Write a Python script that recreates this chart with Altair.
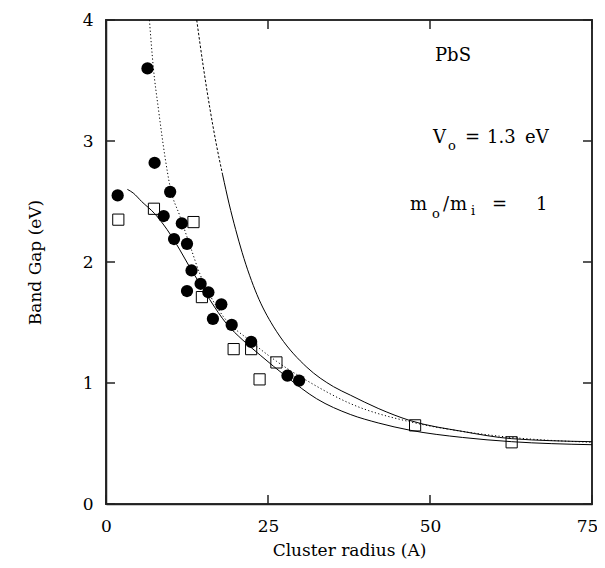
import altair as alt
import pandas as pd

W, H = 486, 484
FONT = "DejaVu Serif"

# measured data: filled circles
circle_x = [1.8, 6.4, 7.5, 8.9, 9.9, 10.5, 11.7, 12.5, 12.5, 13.2, 14.6, 15.8, 16.5, 17.8, 19.4, 22.4, 28.0, 29.8]
circle_y = [2.55, 3.60, 2.82, 2.38, 2.58, 2.19, 2.32, 2.15, 1.76, 1.93, 1.82, 1.75, 1.53, 1.65, 1.48, 1.34, 1.06, 1.02]

# open squares
square_x = [1.9, 7.4, 13.5, 14.8, 19.7, 22.4, 23.7, 26.3, 47.7, 62.6]
square_y = [2.35, 2.44, 2.33, 1.71, 1.28, 1.28, 1.03, 1.17, 0.65, 0.51]

# lower solid model curve
lower_x = [3.3, 4.2, 5.5, 7.5, 9.4, 11.4, 13.0, 14.5, 16.0, 18.6, 21.0, 23.8, 27.9, 32.5, 37.7, 42.0, 46.9, 55.0, 62.6, 75.0]
lower_y = [2.60, 2.57, 2.50, 2.40, 2.27, 2.10, 1.95, 1.82, 1.69, 1.49, 1.36, 1.23, 1.05, 0.87, 0.74, 0.67, 0.61, 0.55, 0.515, 0.49]

# dotted model curve
dotted_x = [6.7, 7.3, 8.1, 9.1, 9.9, 11.4, 13.0, 14.5, 16.0, 18.1, 22.2, 26.3, 31.0, 37.7, 47.7, 55.0, 62.6, 75.0]
dotted_y = [4.0, 3.61, 3.26, 2.87, 2.62, 2.38, 2.13, 1.90, 1.73, 1.55, 1.35, 1.18, 1.02, 0.83, 0.67, 0.60, 0.55, 0.51]

# right model curve (dashed upper part, solid lower part)
right_x = [14.0, 15.0, 16.0, 17.0, 18.0, 19.0, 20.0, 21.0, 23.3, 25.8, 26.9, 31.0, 35.1, 37.7, 42.0, 46.9, 55.0, 62.6, 75.0]
right_y = [4.0, 3.62, 3.28, 2.98, 2.72, 2.48, 2.27, 2.08, 1.73, 1.47, 1.38, 1.13, 0.97, 0.90, 0.79, 0.69, 0.60, 0.54, 0.515]
right_split = 4  # index where the dashed part ends

x_ticks = [0, 25, 50, 75]
y_ticks = [0, 1, 2, 3, 4]

xs = alt.Scale(domain=[0, 75], nice=False, zero=False)
ys = alt.Scale(domain=[0, 4], nice=False, zero=False)

x_axis = alt.Axis(values=x_ticks, ticks=False, domain=True, domainColor="#222", domainWidth=1.5,
                  grid=False,
                  labelPadding=14, labelFontSize=17, labelFont=FONT, labelColor="black",
                  labelOffset=alt.ExprRef("datum.value == 75 ? -5 : 0"),
                  title="Cluster radius (A)", titleFont=FONT, titleFontSize=17,
                  titleFontWeight="normal", titleColor="black", titlePadding=8,
                  labelFlush=False)
y_axis = alt.Axis(values=y_ticks, ticks=False, domain=True, domainColor="#222", domainWidth=1.5,
                  grid=False,
                  labelPadding=13, labelFontSize=17, labelFont=FONT, labelColor="black",
                  title="Band Gap (eV)", titleFont=FONT, titleFontSize=17,
                  titleFontWeight="normal", titleColor="black", titlePadding=38,
                  labelFlush=False)

def line_df(xv, yv):
    return pd.DataFrame({"x": xv, "y": yv})

X = alt.X("x:Q", scale=xs, axis=x_axis)
Y = alt.Y("y:Q", scale=ys, axis=y_axis)

one = pd.DataFrame({"a": [0]})

FW = 0.8  # half thickness of the frame lines
def edge(x1, x2, y1, y2):
    return alt.Chart(one).mark_rect(color="#222", opacity=1).encode(
        x=alt.value(x1), x2=alt.value(x2), y=alt.value(y1), y2=alt.value(y2))

frame = [
    edge(-FW, W + FW, -FW, FW),
    edge(-FW, W + FW, H - FW, H + FW),
    edge(-FW, FW, -FW, H + FW),
    edge(W - FW, W + FW, -FW, H + FW),
]

squares = alt.Chart(line_df(square_x, square_y)).mark_point(
    shape="square", size=125, filled=True, fill="white", stroke="black", strokeWidth=1, opacity=1
).encode(x=X, y=Y)

lower = alt.Chart(line_df(lower_x, lower_y)).mark_line(
    color="black", strokeWidth=1, interpolate="monotone"
).encode(x=X, y=Y, order="x:Q")

dotted = alt.Chart(line_df(dotted_x, dotted_y)).mark_line(
    color="black", strokeWidth=1, strokeDash=[1.2, 2.3], interpolate="monotone"
).encode(x=X, y=Y, order="x:Q")

right_dash = alt.Chart(line_df(right_x[:right_split + 1], right_y[:right_split + 1])).mark_line(
    color="black", strokeWidth=1, strokeDash=[2.5, 1.8], interpolate="monotone"
).encode(x=X, y=Y, order="x:Q")

right_solid = alt.Chart(line_df(right_x[right_split:], right_y[right_split:])).mark_line(
    color="black", strokeWidth=1, interpolate="monotone"
).encode(x=X, y=Y, order="x:Q")

circles = alt.Chart(line_df(circle_x, circle_y)).mark_circle(
    size=150, color="black", opacity=1
).encode(x=X, y=Y)

# inward tick marks on all four sides
TL = 9
xt = pd.DataFrame({"v": x_ticks})
yt = pd.DataFrame({"v": y_ticks})
tick_bottom = alt.Chart(xt).mark_tick(color="#222", thickness=1.5, size=TL, orient="vertical", opacity=1).encode(
    x=alt.X("v:Q", scale=xs, axis=x_axis), y=alt.value(H - TL / 2))
tick_top = alt.Chart(xt).mark_tick(color="#222", thickness=1.5, size=TL, orient="vertical", opacity=1).encode(
    x=alt.X("v:Q", scale=xs, axis=x_axis), y=alt.value(TL / 2))
tick_left = alt.Chart(yt).mark_tick(color="#222", thickness=1.5, size=TL, orient="horizontal", opacity=1).encode(
    y=alt.Y("v:Q", scale=ys, axis=y_axis), x=alt.value(TL / 2))
tick_right = alt.Chart(yt).mark_tick(color="#222", thickness=1.5, size=TL, orient="horizontal", opacity=1).encode(
    y=alt.Y("v:Q", scale=ys, axis=y_axis), x=alt.value(W - TL / 2))

def label(txt, px, py, size=18):
    return alt.Chart(one).mark_text(
        text=txt, align="left", baseline="alphabetic", font=FONT, fontSize=size, color="black"
    ).encode(x=alt.value(px), y=alt.value(py))

annotations = [
    label("PbS", 329, 41),
    label("V", 327, 123),
    label("o", 342, 130, 13),
    label("=", 359, 123),
    label("1.3", 381, 123),
    label("eV", 419, 123),
    label("m", 304, 190),
    label("o", 326, 198, 13),
    label("/", 337, 190),
    label("m", 344, 190),
    label("i", 365, 195, 13),
    label("=", 386, 190),
    label("1", 430, 190),
]

chart = alt.layer(
    *frame,
    tick_bottom, tick_top, tick_left, tick_right,
    squares, lower, dotted, right_dash, right_solid, circles,
    *annotations
).properties(
    width=W, height=H,
    padding={"left": 98, "top": 12, "right": 5, "bottom": 56},
    autosize=alt.AutoSizeParams(type="none"),
    background="white",
).configure_view(stroke="#222", strokeWidth=1.5)

chart.save("out.html", embed_options={"renderer": "svg", "actions": False})
